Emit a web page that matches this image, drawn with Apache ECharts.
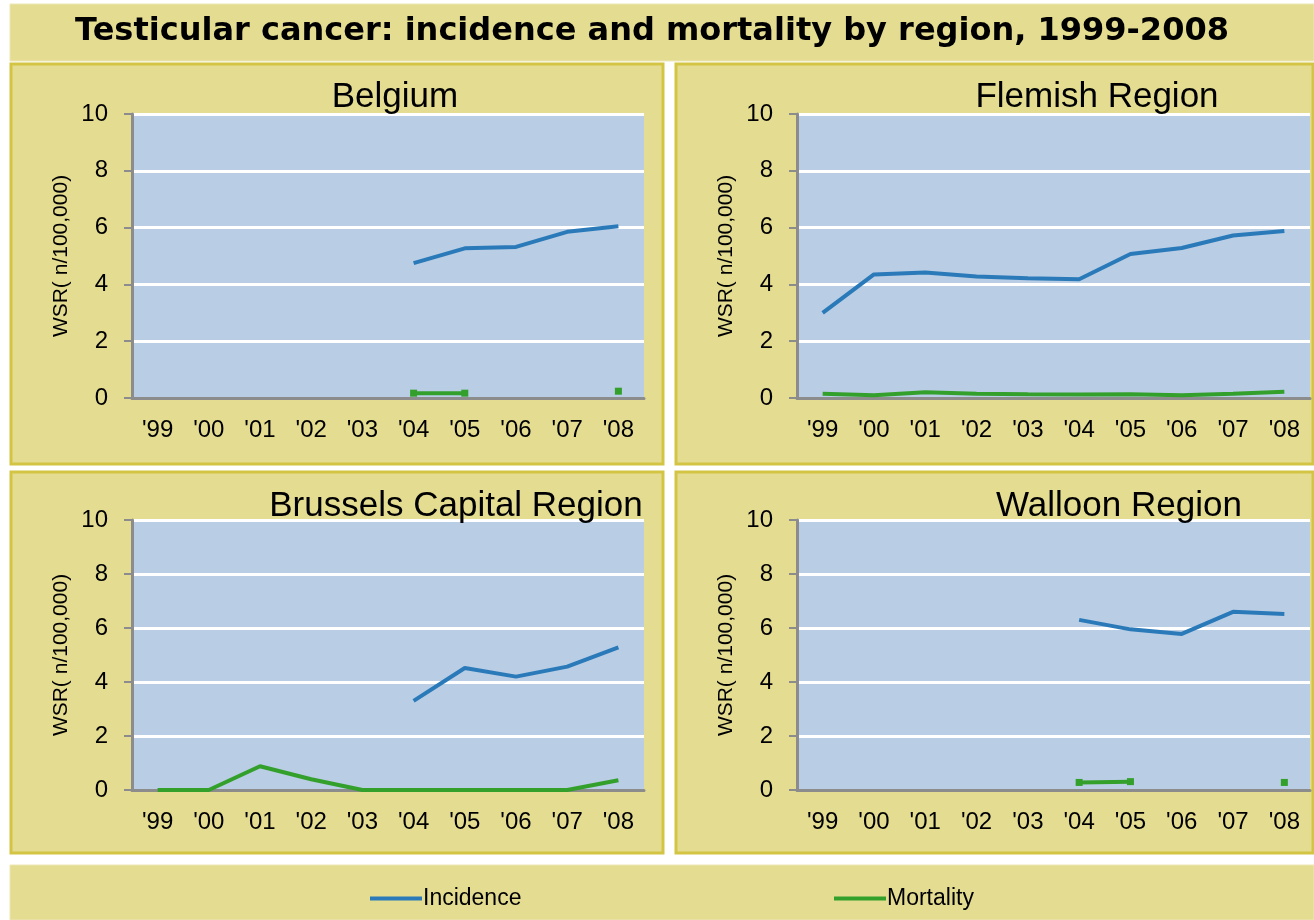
<!DOCTYPE html>
<html>
<head>
<meta charset="utf-8">
<script src="https://cdn.jsdelivr.net/npm/echarts@6/dist/echarts.min.js"></script>
<style>
  html, body { margin: 0; padding: 0; background: #fff; }
  #chart { width: 1314px; height: 920px; }
</style>
</head>
<body>
<div id="chart"></div>
<script>
const years = ["'99", "'00", "'01", "'02", "'03", "'04", "'05", "'06", "'07", "'08"];
const regions = ["Belgium", "Flemish Region", "Brussels Capital Region", "Walloon Region"];

// incidence (WSR per 100,000), null where not plotted
const belgiumInc = [null, null, null, null, null, 4.75, 5.27, 5.32, 5.85, 6.05];
const flemishInc = [3.0, 4.35, 4.42, 4.28, 4.22, 4.18, 5.07, 5.28, 5.72, 5.88];
const brusselsInc = [null, null, null, null, null, 3.3, 4.52, 4.2, 4.57, 5.28];
const walloonInc = [null, null, null, null, null, 6.3, 5.95, 5.78, 6.6, 6.52];

// mortality
const belgiumMort = [null, null, null, null, null, 0.17, 0.17, null, null, 0.24];
const flemishMort = [0.15, 0.1, 0.2, 0.15, 0.13, 0.12, 0.13, 0.1, 0.15, 0.22];
const brusselsMort = [0, 0, 0.88, 0.4, 0, 0, 0, 0, 0, 0.36];
const walloonMort = [null, null, null, null, null, 0.28, 0.31, null, null, 0.28];

const incData = [belgiumInc, flemishInc, brusselsInc, walloonInc];
const mortData = [belgiumMort, flemishMort, brusselsMort, walloonMort];

const narrow = "'Liberation Sans Narrow', 'Liberation Sans', Arial, sans-serif";
const khaki = "#e3dc91";
const edge = "#d4c443";
const axisGray = "#8c8c8c";

// panel layout
const grids = [
  { left: 132, top: 114, width: 512, height: 284 },
  { left: 797, top: 114, width: 513, height: 284 },
  { left: 132, top: 520, width: 512, height: 270 },
  { left: 797, top: 520, width: 513, height: 270 },
];
const titlePos = [
  { x: 390, y: 75 },
  { x: 1092, y: 75 },
  { x: 451, y: 484 },
  { x: 1114, y: 484 },
];
const panels = [
  { x: 11, y: 64, w: 652, h: 400 },
  { x: 676, y: 64, w: 637, h: 400 },
  { x: 11, y: 472, w: 652, h: 381 },
  { x: 676, y: 472, w: 637, h: 381 },
];

let graphics = [
  { type: "rect", shape: { x: 10, y: 4, width: 1304, height: 57 }, style: { fill: khaki, stroke: "#ece7b4", lineWidth: 1 }, z: -10 },
  { type: "rect", shape: { x: 10, y: 865, width: 1304, height: 55 }, style: { fill: khaki, stroke: "#ece7b4", lineWidth: 1 }, z: -10 },
];
panels.forEach(function (p) {
  graphics.push({
    type: "rect",
    shape: { x: p.x, y: p.y, width: p.w, height: p.h },
    style: { fill: khaki, stroke: edge, lineWidth: 3 },
    z: -10,
  });
});

let titles = [
  {
    text: "Testicular cancer: incidence and mortality by region, 1999-2008",
    left: 647,
    top: 11,
    textAlign: "center",
    textStyle: { fontFamily: "'DejaVu Sans', Verdana, sans-serif", fontWeight: "bold", fontSize: 32, color: "#000" },
  },
];
regions.forEach(function (r, i) {
  titles.push({
    text: r,
    left: titlePos[i].x,
    top: titlePos[i].y,
    textAlign: "center",
    textStyle: { fontFamily: narrow, fontWeight: "normal", fontSize: 35, color: "#000" },
  });
});

let xAxes = [];
let yAxes = [];
let series = [];
grids.forEach(function (g, i) {
  xAxes.push({
    type: "category",
    gridIndex: i,
    data: years,
    boundaryGap: true,
    axisLine: { lineStyle: { color: axisGray, width: 3 } },
    axisTick: { length: 8, lineStyle: { color: axisGray, width: 2 } },
    axisLabel: { color: "#000", fontFamily: narrow, fontSize: 24, margin: 20 },
    splitLine: { show: false },
  });
  yAxes.push({
    type: "value",
    gridIndex: i,
    min: 0,
    max: 10,
    interval: 2,
    name: "WSR( n/100,000)",
    nameLocation: "middle",
    nameRotate: 90,
    nameGap: 60,
    nameTextStyle: { color: "#000", fontFamily: narrow, fontSize: 21 },
    axisLine: { show: true, lineStyle: { color: axisGray, width: 3 } },
    axisTick: { show: true, length: 8, lineStyle: { color: axisGray, width: 2 } },
    axisLabel: { color: "#000", fontFamily: narrow, fontSize: 24, margin: 24 },
    splitLine: { lineStyle: { color: "#fff", width: 3 } },
  });
  series.push({
    name: "Incidence",
    type: "line",
    xAxisIndex: i,
    yAxisIndex: i,
    data: incData[i],
    symbol: "none",
    connectNulls: false,
    lineStyle: { color: "#2a7ab9", width: 4 },
    itemStyle: { color: "#2a7ab9" },
  });
  const markers = i === 0 || i === 3;
  series.push({
    name: "Mortality",
    type: "line",
    xAxisIndex: i,
    yAxisIndex: i,
    data: mortData[i],
    symbol: markers ? "rect" : "none",
    symbolSize: 7,
    showAllSymbol: true,
    connectNulls: false,
    lineStyle: { color: "#33a02c", width: 4 },
    itemStyle: { color: "#33a02c" },
  });
});

let myChart = echarts.init(document.getElementById("chart"));
let option = {
  backgroundColor: "#fff",
  animation: false,
  graphic: graphics,
  title: titles,
  grid: grids.map(function (g) {
    return Object.assign({ show: true, backgroundColor: "#b9cde5", borderWidth: 0, containLabel: false }, g);
  }),
  xAxis: xAxes,
  yAxis: yAxes,
  legend: [
    {
      data: ["Incidence"],
      left: 365,
      top: 882,
      icon: "rect",
      itemWidth: 52,
      itemHeight: 4,
      itemGap: 0,
      textStyle: { fontFamily: narrow, fontSize: 23, color: "#000", padding: [0, 0, 0, -4] },
    },
    {
      data: ["Mortality"],
      left: 829,
      top: 882,
      icon: "rect",
      itemWidth: 52,
      itemHeight: 4,
      itemGap: 0,
      textStyle: { fontFamily: narrow, fontSize: 23, color: "#000", padding: [0, 0, 0, -4] },
    },
  ],
  series: series,
};
myChart.setOption(option);
</script>
</body>
</html>
